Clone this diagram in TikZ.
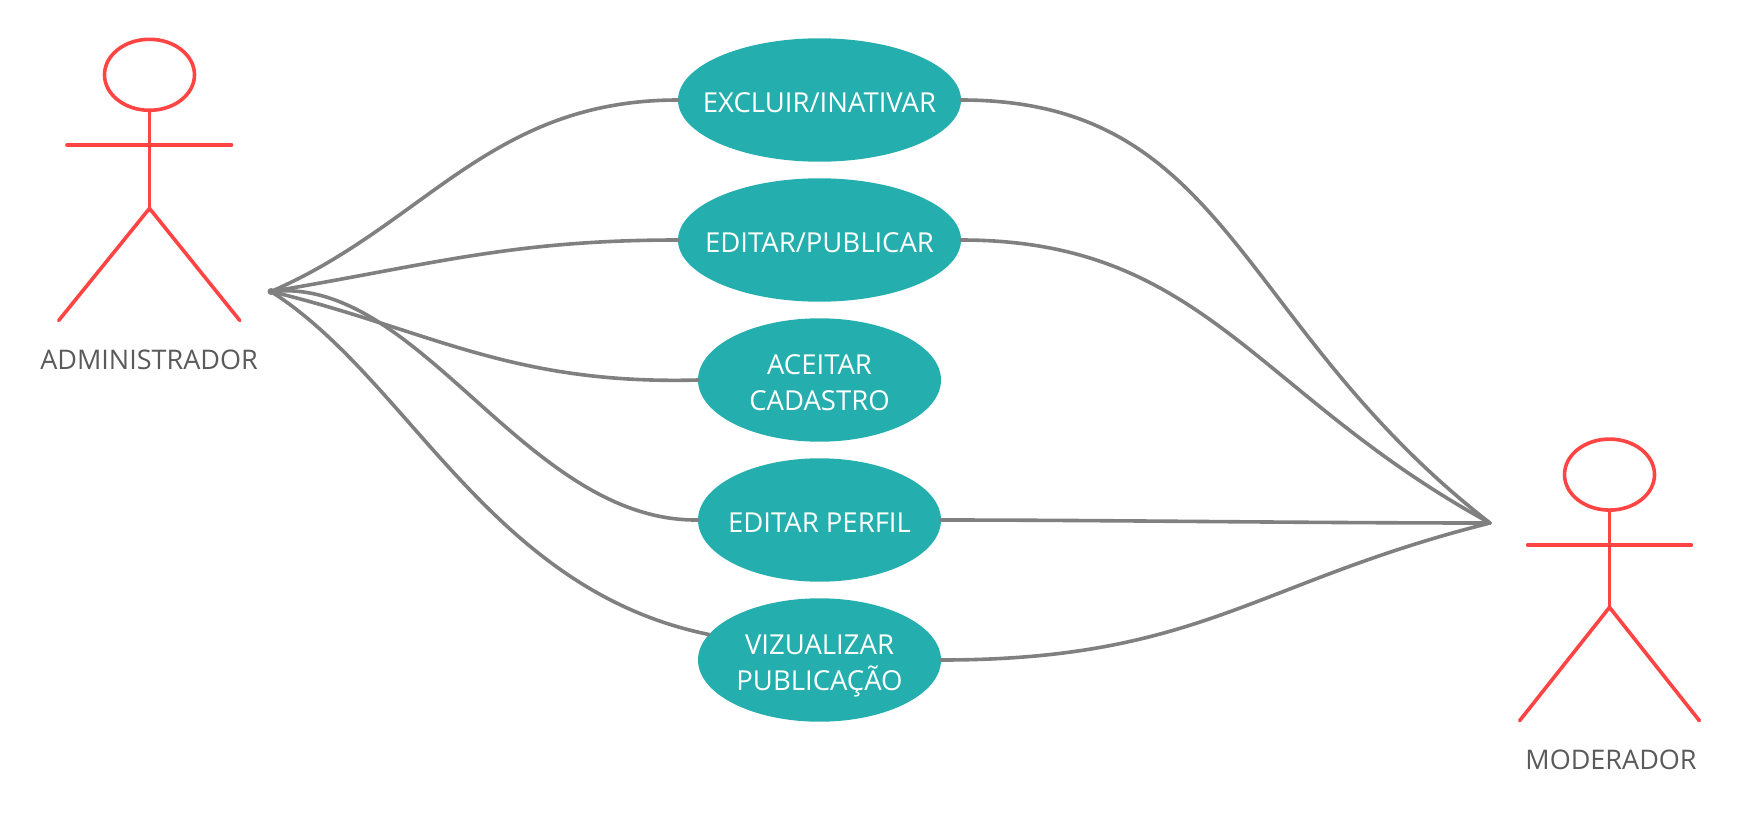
\documentclass[tikz,border=0pt]{standalone}
\usepackage{fontspec}
\setmainfont{Open Sans}
\usetikzlibrary{shapes.geometric}
\definecolor{tealfill}{HTML}{24AFAE}
\definecolor{actorred}{HTML}{FF4444}
\definecolor{linkgray}{HTML}{808080}
\definecolor{labelgray}{HTML}{5A5A5A}
\tikzset{
  usecase/.style={ellipse,fill=tealfill,text=white,inner xsep=-30pt,inner ysep=0pt,outer sep=0pt,
    minimum height=123.4pt,align=center,text height=26pt,text depth=2pt,font=\fontsize{27.5}{36}\selectfont},
  wide/.style={minimum width=283pt},
  narrow/.style={minimum width=243pt},
  twolines/.style={text height=62pt},
  actorline/.style={draw=actorred,line width=3.6pt,line cap=round},
  head/.style={ellipse,actorline,fill=white,inner sep=0pt,outer sep=0pt,minimum width=90pt,minimum height=71pt},
  actorlabel/.style={text=labelgray,font=\fontsize{27}{30}\selectfont},
  link/.style={draw=linkgray,line width=3.6pt,line cap=round}
}
\begin{document}
\begin{tikzpicture}[x=1pt,y=-1pt]
\useasboundingbox (0,0) rectangle (1740,817);
\coordinate (admhub) at (271,291.5);
\coordinate (modhub) at (1490,523);
% use cases
\node[usecase,wide] (excluir) at (819.5,100) {EXCLUIR/INATIVAR};
\node[usecase,wide] (editar) at (819.5,240) {EDITAR/PUBLICAR};
\node[usecase,narrow,twolines] (aceitar) at (819.5,380) {ACEITAR\\CADASTRO};
\node[usecase,narrow] (perfil) at (819.5,520) {EDITAR PERFIL};
\node[usecase,narrow,twolines] (publicacao) at (819.5,660) {VIZUALIZAR\\PUBLICAÇÃO};
% links
\fill[linkgray] (admhub) circle (3.5);
\draw[link] (admhub) .. controls (425,225) and (490,100) .. (excluir.west);
\draw[link] (admhub) .. controls (430,265) and (510,240) .. (editar.west);
\draw[link] (admhub) .. controls (430,330) and (510,385) .. (aceitar.west);
\draw[link] (admhub) .. controls (420,275) and (525,522) .. (perfil.west);
\draw[link] (admhub) .. controls (410,380) and (490,590) .. (publicacao.167);
\draw[link] (excluir.east) .. controls (1230,100) and (1235,325) .. (modhub);
\draw[link] (editar.east) .. controls (1205,240) and (1255,395) .. (modhub);
\draw[link] (perfil.east) .. controls (1100,520) and (1300,523) .. (modhub);
\draw[link] (publicacao.east) .. controls (1200,660) and (1255,582) .. (modhub);
% ADMINISTRADOR
\node[head] (admhead) at (149.5,74.8) {};
\coordinate (admhip) at (149.5,208.4);
\draw[actorline] (admhead.south) -- (admhip);
\draw[actorline] (67,145) -- (231.5,145);
\draw[actorline] (58.7,320.5) -- (admhip) -- (239.8,320.5);
\node[actorlabel] (admlabel) at (149,359.6) {ADMINISTRADOR};
% MODERADOR
\node[head] (modhead) at (1609.5,474.6) {};
\coordinate (modhip) at (1609.5,607.3);
\draw[actorline] (modhead.south) -- (modhip);
\draw[actorline] (1527.6,545) -- (1691.4,545);
\draw[actorline] (1519.6,720.7) -- (modhip) -- (1699.4,720.7);
\node[actorlabel] (modlabel) at (1611,760) {MODERADOR};
\end{tikzpicture}
\end{document}
